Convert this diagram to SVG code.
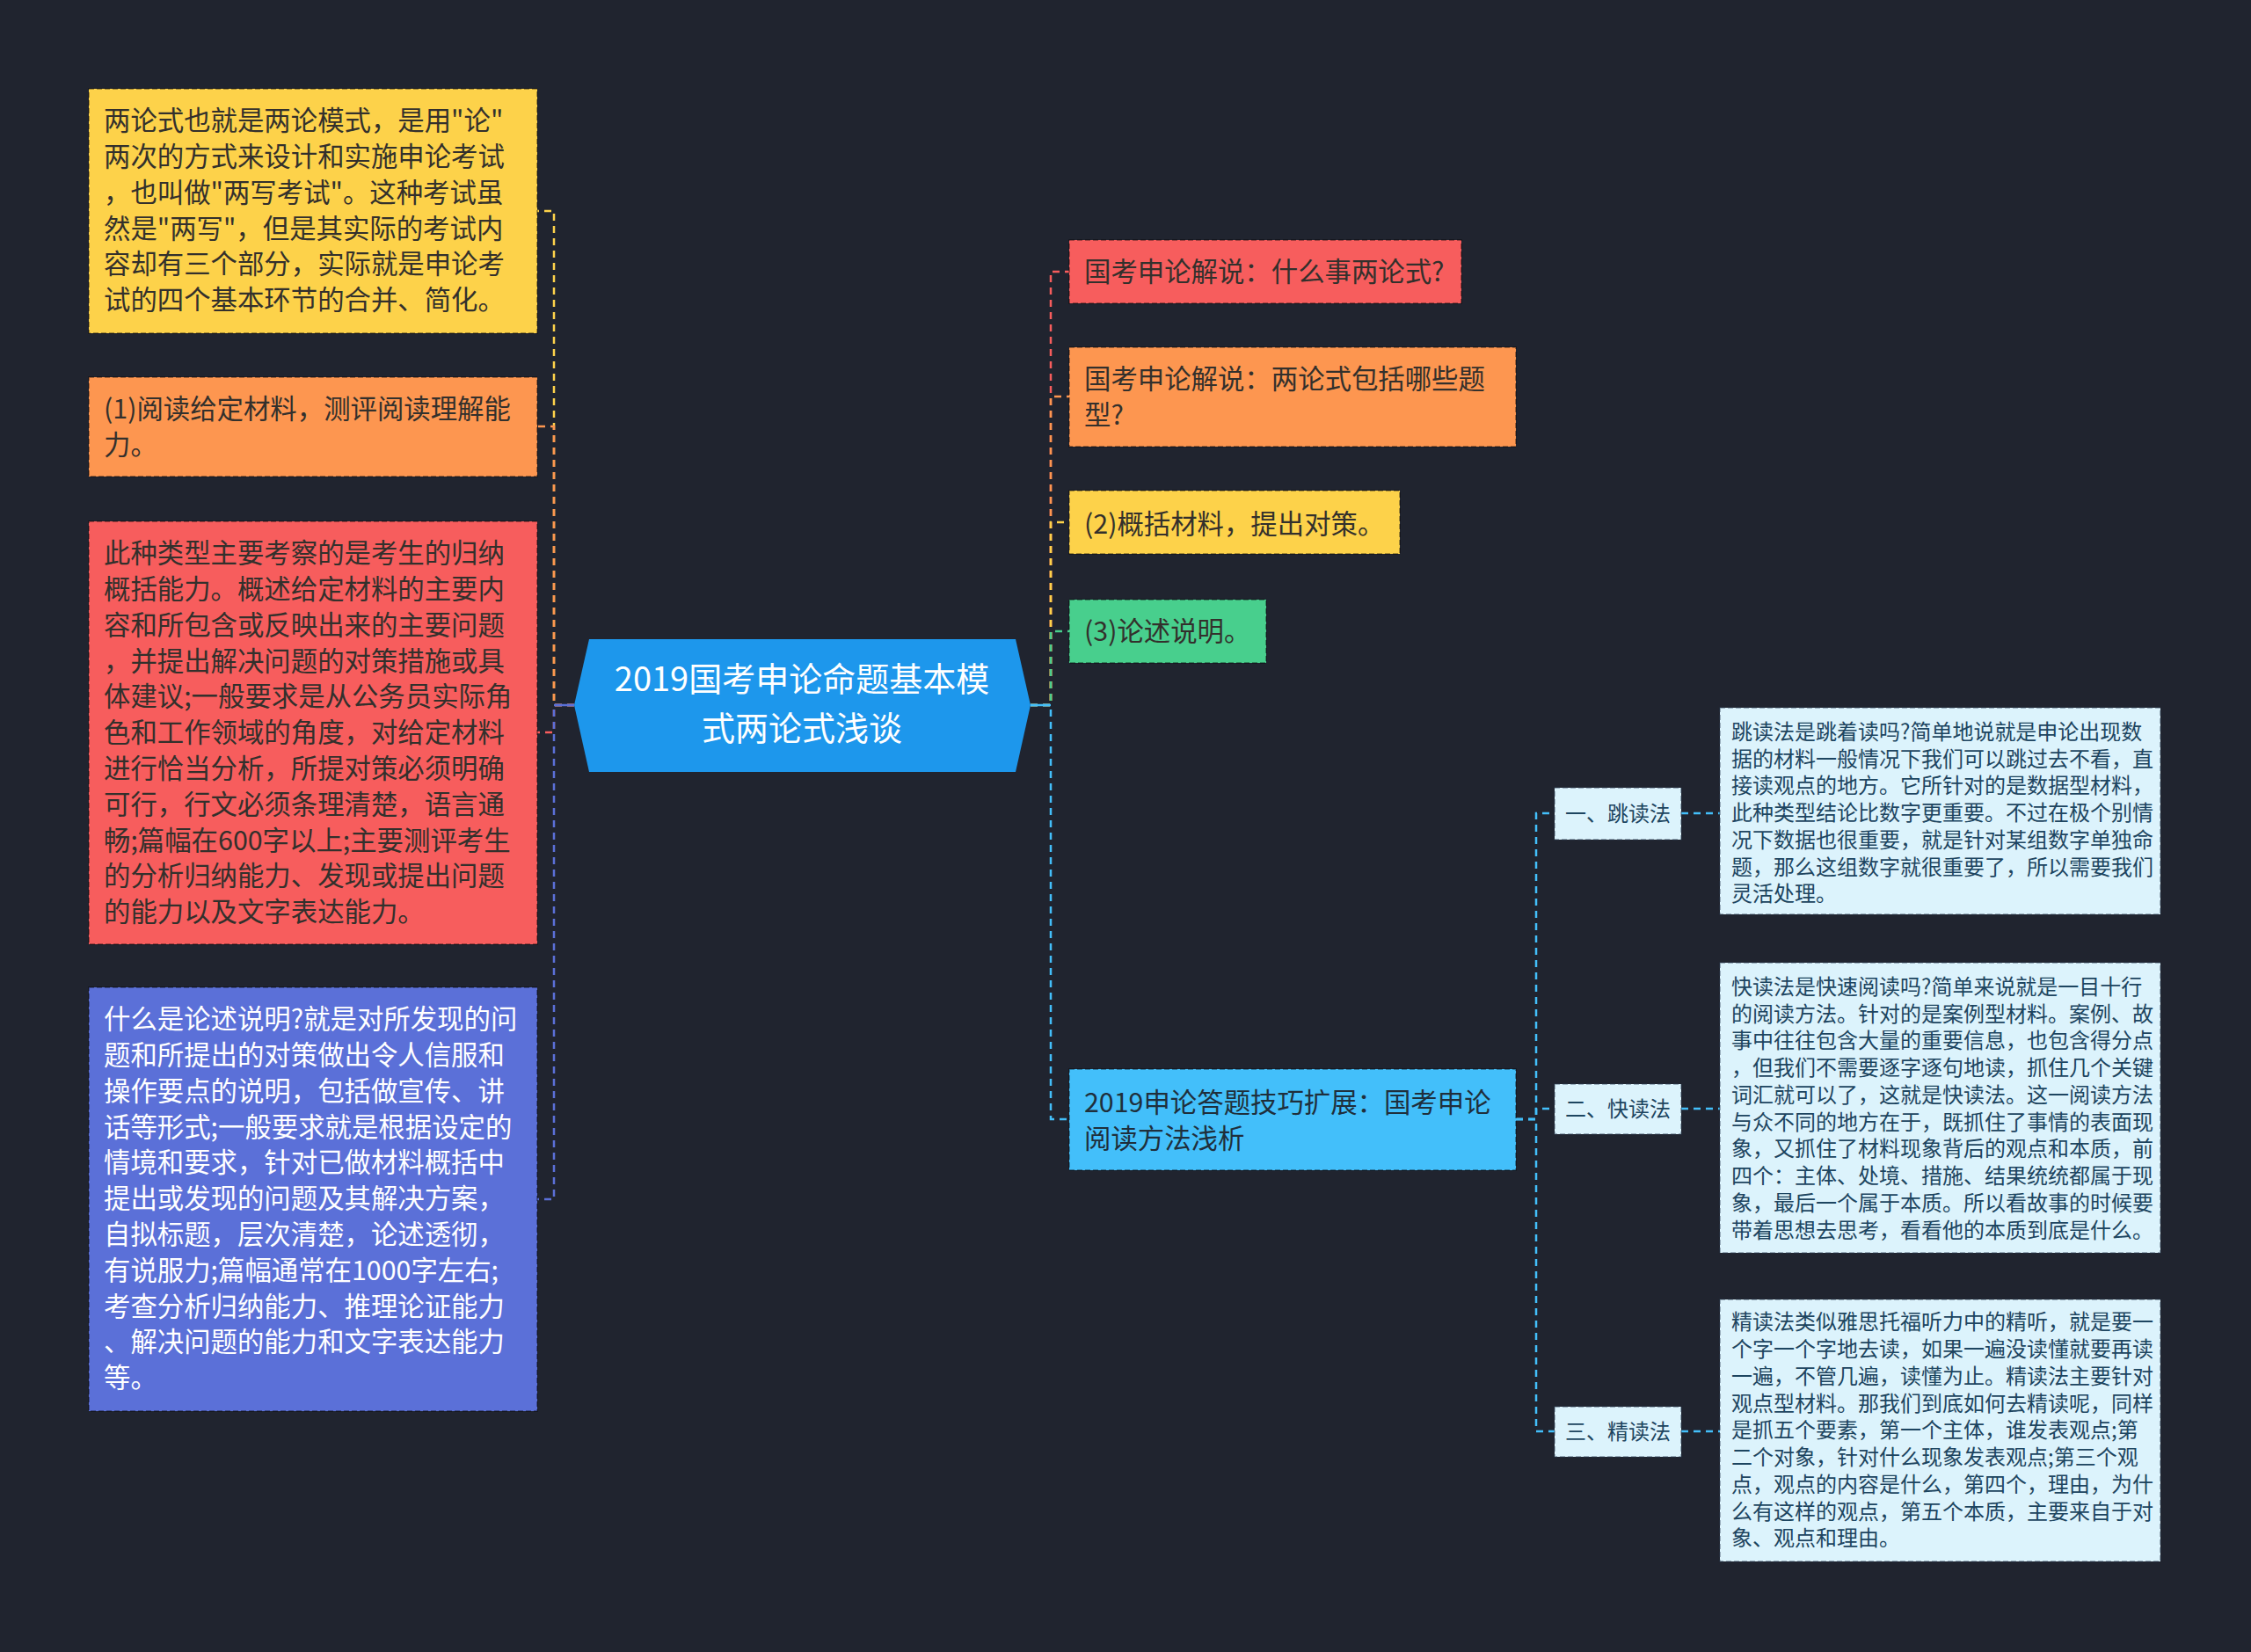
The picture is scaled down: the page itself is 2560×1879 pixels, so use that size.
<svg xmlns="http://www.w3.org/2000/svg" width="2560" height="1879" viewBox="0 0 2560 1879">
<style>
text{font-family:"Noto Sans CJK SC","Microsoft YaHei",sans-serif;}
.box{stroke:rgba(0,0,0,0.45);stroke-width:1.5;stroke-dasharray:6 3;}
.t30{font-size:30.4px;fill:#33302c;}
.t24{font-size:24px;fill:#1d4560;}
.w{fill:#ffffff;}
.c{fill:none;stroke-width:2.5;stroke-dasharray:8 6;}
.det{fill:#dcf3fc;stroke:rgba(40,60,80,0.5);stroke-width:1.5;stroke-dasharray:6 3;}
</style>
<rect width="2560" height="1879" fill="#20242f"/>
<g id="connectors">
<path class="c" stroke="#fdd24a" d="M653 802 H630 V240 H611"/>
<path class="c" stroke="#fd9650" d="M653 802 H630 V485 H611"/>
<path class="c" stroke="#f75d5d" d="M653 802 H630 V833 H611"/>
<path class="c" stroke="#5b70d8" d="M653 802 H630 V1364 H611"/>
<path fill="none" stroke="#5b70d8" stroke-width="2.5" d="M653 802 H630"/>
<path class="c" stroke="#f75d5d" d="M1172 802 H1195 V309 H1216"/>
<path class="c" stroke="#fd9650" d="M1172 802 H1195 V451 H1216"/>
<path class="c" stroke="#fdd24a" d="M1172 802 H1195 V594 H1216"/>
<path class="c" stroke="#48cf8d" d="M1172 802 H1195 V718 H1216"/>
<path class="c" stroke="#43bffa" d="M1172 802 H1195 V1273 H1216"/>
<path fill="none" stroke="#43bffa" stroke-width="2.5" d="M1172 802 H1195"/>
<path class="c" stroke="#43bffa" d="M1724 1273 H1747 V925 H1768"/>
<path class="c" stroke="#43bffa" d="M1724 1273 H1747 V1261 H1768"/>
<path class="c" stroke="#43bffa" d="M1724 1273 H1747 V1628 H1768"/>
<path class="c" stroke="#43bffa" d="M1912 925 H1956"/>
<path class="c" stroke="#43bffa" d="M1912 1261 H1956"/>
<path class="c" stroke="#43bffa" d="M1912 1628 H1956"/>
</g>
<g id="center">
<polygon points="653,802 670,727 1155,727 1172,802 1155,878 670,878" fill="#1d97ec"/>
<text class="w" font-size="38" text-anchor="middle" x="912"><tspan x="912" y="786">2019国考申论命题基本模</tspan><tspan x="912" y="842">式两论式浅谈</tspan></text>
</g>
<g id="left1">
<rect class="box" x="101" y="101" width="510" height="278" fill="#fdd24a"/>
<text class="t30"><tspan x="118" y="148">两论式也就是两论模式，是用"论"</tspan><tspan x="118" y="189">两次的方式来设计和实施申论考试</tspan><tspan x="118" y="230">，也叫做"两写考试"。这种考试虽</tspan><tspan x="118" y="271">然是"两写"，但是其实际的考试内</tspan><tspan x="118" y="311">容却有三个部分，实际就是申论考</tspan><tspan x="118" y="352">试的四个基本环节的合并、简化。</tspan></text>
</g>
<g id="left2">
<rect class="box" x="101" y="429" width="510" height="113" fill="#fd9650"/>
<text class="t30"><tspan x="118" y="476">(1)阅读给定材料，测评阅读理解能</tspan><tspan x="118" y="517">力。</tspan></text>
</g>
<g id="left3">
<rect class="box" x="101" y="593" width="510" height="481" fill="#f75d5d"/>
<text class="t30"><tspan x="118" y="640">此种类型主要考察的是考生的归纳</tspan><tspan x="118" y="681">概括能力。概述给定材料的主要内</tspan><tspan x="118" y="722">容和所包含或反映出来的主要问题</tspan><tspan x="118" y="763">，并提出解决问题的对策措施或具</tspan><tspan x="118" y="803">体建议;一般要求是从公务员实际角</tspan><tspan x="118" y="844">色和工作领域的角度，对给定材料</tspan><tspan x="118" y="885">进行恰当分析，所提对策必须明确</tspan><tspan x="118" y="926">可行，行文必须条理清楚，语言通</tspan><tspan x="118" y="967">畅;篇幅在600字以上;主要测评考生</tspan><tspan x="118" y="1007">的分析归纳能力、发现或提出问题</tspan><tspan x="118" y="1048">的能力以及文字表达能力。</tspan></text>
</g>
<g id="left4">
<rect class="box" x="101" y="1123" width="510" height="482" fill="#5b70d8"/>
<text class="t30 w" style="fill:#ffffff"><tspan x="118" y="1170">什么是论述说明?就是对所发现的问</tspan><tspan x="118" y="1211">题和所提出的对策做出令人信服和</tspan><tspan x="118" y="1252">操作要点的说明，包括做宣传、讲</tspan><tspan x="118" y="1293">话等形式;一般要求就是根据设定的</tspan><tspan x="118" y="1333">情境和要求，针对已做材料概括中</tspan><tspan x="118" y="1374">提出或发现的问题及其解决方案，</tspan><tspan x="118" y="1415">自拟标题，层次清楚，论述透彻，</tspan><tspan x="118" y="1456">有说服力;篇幅通常在1000字左右;</tspan><tspan x="118" y="1497">考查分析归纳能力、推理论证能力</tspan><tspan x="118" y="1537">、解决问题的能力和文字表达能力</tspan><tspan x="118" y="1578">等。</tspan></text>
</g>
<g id="right1">
<rect class="box" x="1216" y="273" width="446" height="72" fill="#f75d5d"/>
<text class="t30" x="1233" y="320">国考申论解说：什么事两论式?</text>
</g>
<g id="right2">
<rect class="box" x="1216" y="395" width="508" height="113" fill="#fd9650"/>
<text class="t30"><tspan x="1233" y="442">国考申论解说：两论式包括哪些题</tspan><tspan x="1233" y="483">型?</tspan></text>
</g>
<g id="right3">
<rect class="box" x="1216" y="558" width="376" height="72" fill="#fdd24a"/>
<text class="t30" x="1233" y="607">(2)概括材料，提出对策。</text>
</g>
<g id="right4">
<rect class="box" x="1216" y="682" width="224" height="72" fill="#48cf8d"/>
<text class="t30" x="1233" y="729">(3)论述说明。</text>
</g>
<g id="right5">
<rect class="box" x="1216" y="1216" width="508" height="115" fill="#43bffa"/>
<text class="t30" style="fill:#1f2f3c"><tspan x="1233" y="1265">2019申论答题技巧扩展：国考申论</tspan><tspan x="1233" y="1306">阅读方法浅析</tspan></text>
</g>
<g id="sub1">
<rect class="det" x="1768" y="896" width="144" height="59"/>
<text class="t24" x="1840" y="934" text-anchor="middle">一、跳读法</text>
</g>
<g id="sub2">
<rect class="det" x="1768" y="1233" width="144" height="57"/>
<text class="t24" x="1840" y="1270" text-anchor="middle">二、快读法</text>
</g>
<g id="sub3">
<rect class="det" x="1768" y="1600" width="144" height="57"/>
<text class="t24" x="1840" y="1637" text-anchor="middle">三、精读法</text>
</g>
<g id="detail1">
<rect class="det" x="1956" y="805" width="501" height="235"/>
<text class="t24"><tspan x="1969" y="841">跳读法是跳着读吗?简单地说就是申论出现数</tspan><tspan x="1969" y="872">据的材料一般情况下我们可以跳过去不看，直</tspan><tspan x="1969" y="902">接读观点的地方。它所针对的是数据型材料，</tspan><tspan x="1969" y="933">此种类型结论比数字更重要。不过在极个别情</tspan><tspan x="1969" y="964">况下数据也很重要，就是针对某组数字单独命</tspan><tspan x="1969" y="995">题，那么这组数字就很重要了，所以需要我们</tspan><tspan x="1969" y="1025">灵活处理。</tspan></text>
</g>
<g id="detail2">
<rect class="det" x="1956" y="1095" width="501" height="330"/>
<text class="t24"><tspan x="1969" y="1131">快读法是快速阅读吗?简单来说就是一目十行</tspan><tspan x="1969" y="1162">的阅读方法。针对的是案例型材料。案例、故</tspan><tspan x="1969" y="1192">事中往往包含大量的重要信息，也包含得分点</tspan><tspan x="1969" y="1223">，但我们不需要逐字逐句地读，抓住几个关键</tspan><tspan x="1969" y="1254">词汇就可以了，这就是快读法。这一阅读方法</tspan><tspan x="1969" y="1285">与众不同的地方在于，既抓住了事情的表面现</tspan><tspan x="1969" y="1315">象，又抓住了材料现象背后的观点和本质，前</tspan><tspan x="1969" y="1346">四个：主体、处境、措施、结果统统都属于现</tspan><tspan x="1969" y="1377">象，最后一个属于本质。所以看故事的时候要</tspan><tspan x="1969" y="1408">带着思想去思考，看看他的本质到底是什么。</tspan></text>
</g>
<g id="detail3">
<rect class="det" x="1956" y="1478" width="501" height="298"/>
<text class="t24"><tspan x="1969" y="1512">精读法类似雅思托福听力中的精听，就是要一</tspan><tspan x="1969" y="1543">个字一个字地去读，如果一遍没读懂就要再读</tspan><tspan x="1969" y="1574">一遍，不管几遍，读懂为止。精读法主要针对</tspan><tspan x="1969" y="1605">观点型材料。那我们到底如何去精读呢，同样</tspan><tspan x="1969" y="1635">是抓五个要素，第一个主体，谁发表观点;第</tspan><tspan x="1969" y="1666">二个对象，针对什么现象发表观点;第三个观</tspan><tspan x="1969" y="1697">点，观点的内容是什么，第四个，理由，为什</tspan><tspan x="1969" y="1728">么有这样的观点，第五个本质，主要来自于对</tspan><tspan x="1969" y="1758">象、观点和理由。</tspan></text>
</g>
</svg>
